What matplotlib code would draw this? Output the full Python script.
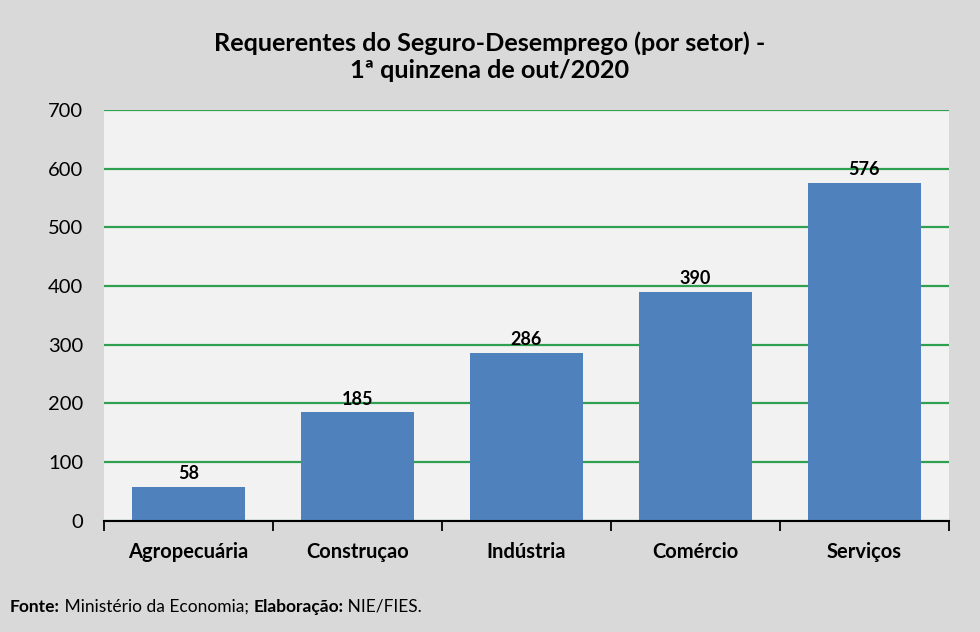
import matplotlib.pyplot as plt
import numpy as np

# dados
setores = ['Agropecuária', 'Construçao', 'Indústria', 'Comércio', 'Serviços']
requerentes = [58, 185, 286, 390, 576]
yticks = [0, 100, 200, 300, 400, 500, 600, 700]

plt.rcParams['font.family'] = ['Lato', 'DejaVu Sans']

fig = plt.figure(figsize=(9.8, 6.32), dpi=100, facecolor='#d9d9d9')
ax = fig.add_axes([0.106, 0.176, 0.862, 0.65])
ax.set_facecolor('#f2f2f2')

x = np.arange(len(setores))
ax.bar(x, requerentes, width=0.67, color='#4f81bd', zorder=3)

for xi, v in zip(x, requerentes):
    ax.text(xi, v + 8, str(v), ha='center', va='bottom', fontsize=13,
            fontweight='bold', zorder=4)

ax.set_xlim(-0.5, len(setores) - 0.5)
ax.set_ylim(0, 700)
ax.set_yticks(yticks)
ax.set_yticklabels([str(t) for t in yticks], fontsize=14.5)
ax.yaxis.grid(True, color='#2ea04f', linewidth=1.6, zorder=1)
ax.tick_params(axis='y', length=0, pad=15)

# ticks nas fronteiras (para baixo) e no centro (para cima)
ax.set_xticks(np.arange(-0.5, len(setores), 1.0))
ax.set_xticklabels([])
ax.tick_params(axis='x', which='major', direction='out', length=7, width=1.3, color='black')
ax.set_xticks(x, minor=True)
ax.set_xticklabels(setores, minor=True, fontsize=14.5, fontweight='bold')
ax.tick_params(axis='x', which='minor', direction='in', length=4, width=1.3, pad=15, color='black')

for s in ['left', 'right', 'top']:
    ax.spines[s].set_visible(False)
ax.spines['bottom'].set_linewidth(1.5)
ax.spines['bottom'].set_zorder(5)

fig.text(0.5, 0.910, 'Requerentes do Seguro-Desemprego (por setor) -\n1ª quinzena de out/2020',
         ha='center', va='center', fontsize=18.2, fontweight='bold', linespacing=1.2)

# rodapé com partes em negrito
partes = [('Fonte:', 'bold'), (' Ministério da Economia; ', 'normal'),
          ('Elaboração:', 'bold'), (' NIE/FIES.', 'normal')]
renderer = fig.canvas.get_renderer()
xpos = 10
for txt, peso in partes:
    t = fig.text(xpos / 980, 1 - 607 / 632, txt, fontsize=12.5, fontweight=peso,
                 ha='left', va='center')
    xpos += t.get_window_extent(renderer).width

plt.savefig('out.png', dpi=100, facecolor=fig.get_facecolor())
